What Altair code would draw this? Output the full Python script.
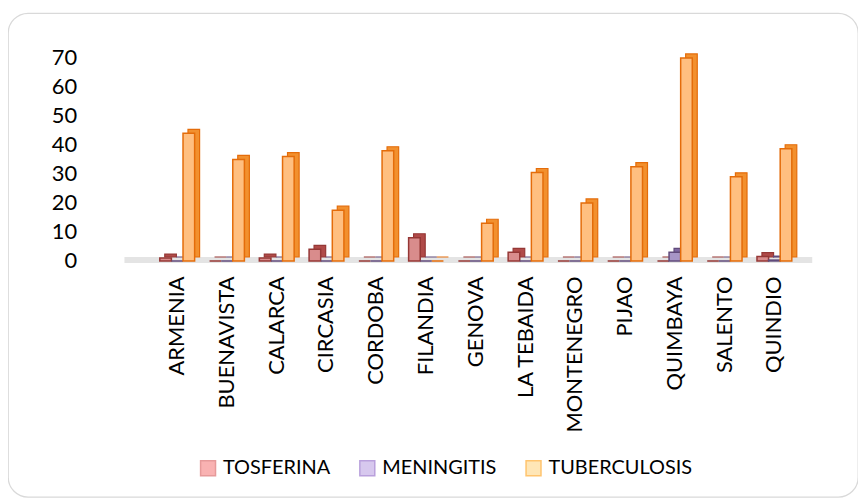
import altair as alt
import pandas as pd

categories = ["ARMENIA", "BUENAVISTA", "CALARCA", "CIRCASIA", "CORDOBA", "FILANDIA",
              "GENOVA", "LA TEBAIDA", "MONTENEGRO", "PIJAO", "QUIMBAYA", "SALENTO", "QUINDIO"]
series = ["TOSFERINA", "MENINGITIS", "TUBERCULOSIS"]
tosferina = [1, 0, 1, 4, 0, 8, 0, 3, 0, 0, 0, 0, 1.5]
meningitis = [0, 0, 0, 0, 0, 0, 0, 0, 0, 0, 3, 0, 0.3]
tuberculosis = [44, 35, 36, 17.5, 38, 0, 13, 30.5, 20, 32.5, 70, 29, 38.7]
y_ticks = [0, 10, 20, 30, 40, 50, 60, 70]

front_fill = ["#D98C8C", "#A795C6", "#FFBF80"]
side_fill = ["#B04A48", "#7D66A0", "#F2902E"]
edge = ["#953735", "#604A7B", "#E46C0A"]
legend_fill = ["#F9B2B2", "#D7C8EE", "#FFE6B6"]
legend_edge = ["#E69A9A", "#B9A0DC", "#FFC46E"]

rows = []
for i, c in enumerate(categories):
    for s, vals in zip(series, [tosferina, meningitis, tuberculosis]):
        rows.append({"municipio": c, "serie": s, "valor": vals[i]})
df = pd.DataFrame(rows)

FONT = "Lato"

x_enc = alt.X(
    "municipio:N", sort=categories,
    scale=alt.Scale(domain=categories, range=[145, 795], paddingInner=0.3, paddingOuter=0.15),
    axis=alt.Axis(title=None, labelAngle=-90, ticks=False, domain=False, labelPadding=1,
                  offset=-223, labelFont=FONT, labelFontSize=22, labelColor="#000000"),
)
xo_front = alt.XOffset("serie:N", sort=series, scale=alt.Scale(domain=series, range=[0, 35]))
xo_back = alt.XOffset("serie:N", sort=series, scale=alt.Scale(domain=series, range=[5, 40]))
y_scale = alt.Scale(domain=[0, 70], range=[249, 45], nice=False, zero=True)
y_enc = alt.Y(
    "valor:Q", scale=y_scale,
    axis=alt.Axis(title=None, values=y_ticks, grid=False, ticks=False, domain=False,
                  labelPadding=0, offset=-69, labelFont=FONT, labelFontSize=22,
                  labelColor="#000000"),
)

floor = alt.Chart(pd.DataFrame({"v": [0]})).mark_rule(
    color="#e4e4e4", strokeWidth=6, yOffset=-1
).encode(y=alt.datum(0), x=alt.value(117), x2=alt.value(808))

back = alt.Chart(df).mark_bar(yOffset=-4, y2Offset=0, strokeWidth=1.2).encode(
    x=x_enc, xOffset=xo_back, y=y_enc,
    fill=alt.Fill("serie:N", scale=alt.Scale(domain=series, range=side_fill), legend=None),
    stroke=alt.Stroke("serie:N", scale=alt.Scale(domain=series, range=edge), legend=None),
)

front = alt.Chart(df).mark_bar(strokeWidth=1.5).encode(
    x=x_enc, xOffset=xo_front, y=y_enc,
    fill=alt.Fill("serie:N", scale=alt.Scale(domain=series, range=front_fill), legend=None),
    stroke=alt.Stroke("serie:N", scale=alt.Scale(domain=series, range=edge), legend=None),
)

leg_kwargs = dict(
    orient="none", legendX=191, legendY=447, direction="horizontal", title=None,
    symbolType="square", symbolSize=225, symbolStrokeWidth=1.5, symbolOpacity=1,
    labelFont=FONT, labelFontSize=20, labelColor="#000000", columnPadding=26, labelOffset=5,
)
legend_layer = alt.Chart(df).transform_filter("false").mark_square(size=225, strokeWidth=1.5).encode(
    fill=alt.Fill("serie:N", scale=alt.Scale(domain=series, range=legend_fill),
                  legend=alt.Legend(**leg_kwargs)),
    stroke=alt.Stroke("serie:N", scale=alt.Scale(domain=series, range=legend_edge),
                      legend=alt.Legend(**leg_kwargs)),
)

chart = alt.layer(floor, back, front, legend_layer).resolve_scale(
    fill="independent", stroke="independent", xOffset="independent"
).properties(
    width=854, height=486,
    autosize=alt.AutoSizeParams(type="none"),
    padding={"left": 0, "top": 4, "right": 0, "bottom": 0},
    background="#ffffff",
).configure_view(stroke="#d9d9d9", cornerRadius=20, strokeWidth=1.3)

chart.save("out.html", embed_options={"renderer": "svg", "actions": False})
